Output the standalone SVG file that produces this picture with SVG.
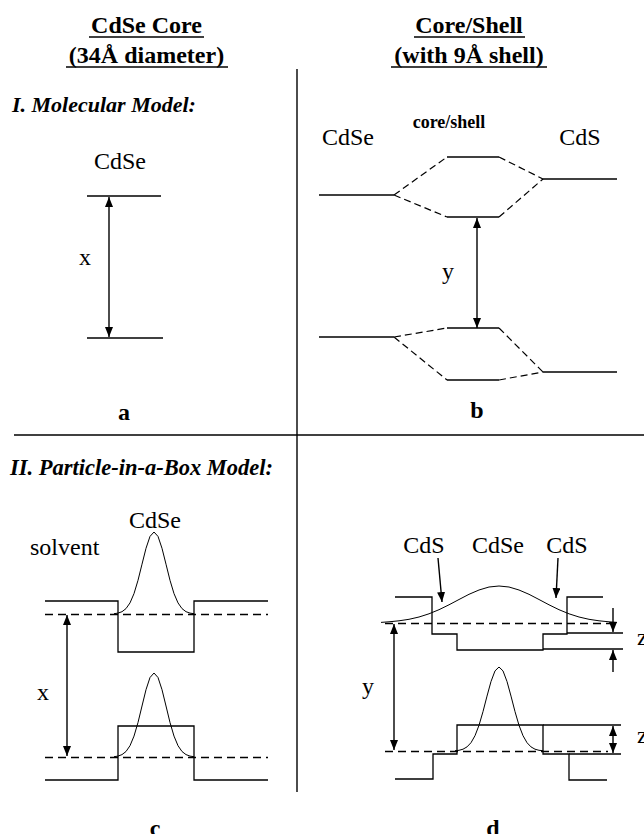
<svg xmlns="http://www.w3.org/2000/svg" width="644" height="834" viewBox="0 0 644 834" font-family="'Liberation Serif', 'DejaVu Serif', serif">
<style>
text{font-family:"Liberation Serif","DejaVu Serif","Times New Roman",serif;fill:#000}
.hd{font-size:24px;font-weight:bold;text-anchor:middle}
.sec{font-weight:bold;font-style:italic}
.lb{font-size:24px;text-anchor:middle}
.lt{font-size:24px;font-weight:bold;text-anchor:middle}
.ln{stroke:#000;stroke-width:1.3;fill:none}
.ul{stroke:#000;stroke-width:1.6}
.ds{stroke:#000;stroke-width:1.3;fill:none;stroke-dasharray:8 5}
.dsb{stroke:#000;stroke-width:1.2;fill:none;stroke-dasharray:7 4}
.gs{stroke:#000;stroke-width:1;fill:none}
.ar{stroke:#000;stroke-width:1.4;fill:none;marker-end:url(#ah)}
.ar2{stroke:#000;stroke-width:1.4;fill:none;marker-end:url(#ah);marker-start:url(#ah)}
.dv{stroke:#000;stroke-width:1.4}
</style>
<defs>
<marker id="ah" viewBox="0 0 10 8" refX="10" refY="4" markerWidth="10" markerHeight="8" markerUnits="userSpaceOnUse" orient="auto-start-reverse">
<path d="M0,0 L10,4 L0,8 z" fill="#000"/>
</marker>
</defs>
<rect width="644" height="834" fill="#fff"/>

<g id="headers">
<text class="hd" x="146.5" y="33">CdSe Core</text>
<line class="ul" x1="89" y1="37" x2="204" y2="37"/>
<text class="hd" x="146.5" y="63">(34Å diameter)</text>
<line class="ul" x1="66" y1="67" x2="228" y2="67"/>
<text class="hd" x="469" y="33">Core/Shell</text>
<line class="ul" x1="414" y1="37" x2="525" y2="37"/>
<text class="hd" x="469" y="63">(with 9Å shell)</text>
<line class="ul" x1="391" y1="67" x2="547" y2="67"/>
<text class="sec" x="12" y="112" style="font-size:22px">I. Molecular Model:</text>
<text class="sec" x="10" y="475" style="font-size:22.5px">II. Particle-in-a-Box Model:</text>
</g>

<g id="dividers">
<line class="dv" x1="297" y1="69" x2="297" y2="792"/>
<line class="dv" x1="14" y1="435" x2="644" y2="435"/>
</g>

<g id="panel-a">
<text class="lb" x="120" y="169">CdSe</text>
<line class="ln" x1="87" y1="196" x2="161" y2="196"/>
<line class="ln" x1="87" y1="338" x2="163" y2="338"/>
<text class="lb" x="85" y="265">x</text>
<text class="lt" x="124" y="420">a</text>
</g>

<g id="panel-b">
<text class="lb" x="348" y="145">CdSe</text>
<text class="lb" x="580" y="145">CdS</text>
<text x="449" y="128" style="font-size:18px;font-weight:bold;text-anchor:middle">core/shell</text>
<line class="ln" x1="319" y1="195" x2="394" y2="195"/>
<line class="ln" x1="447" y1="157" x2="499" y2="157"/>
<line class="ln" x1="447" y1="217" x2="499" y2="217"/>
<line class="ln" x1="543" y1="179" x2="617" y2="179"/>
<path class="dsb" d="M394,195 L447,157 M499,157 L543,179 M394,195 L447,217 M499,217 L543,179"/>
<line class="ln" x1="319" y1="337" x2="394" y2="337"/>
<line class="ln" x1="447" y1="328" x2="499" y2="328"/>
<line class="ln" x1="447" y1="380" x2="499" y2="380"/>
<line class="ln" x1="543" y1="372" x2="617" y2="372"/>
<path class="dsb" d="M394,337 L447,328 M499,328 L543,372 M394,337 L447,380 M499,380 L543,372"/>
<text class="lb" x="448" y="279">y</text>
<text class="lt" x="477" y="418">b</text>
</g>

<g id="panel-c">
<text class="lb" x="155" y="528">CdSe</text>
<text style="font-size:24px" x="30" y="555">solvent</text>
<path class="ln" d="M45,601 H118 V652 H194 V601 H268"/>
<line class="ds" x1="45" y1="614.5" x2="268" y2="614.5"/>
<polyline class="gs" points="114,613.7 118,613.1 122,611.7 126,608.6 130,602.9 134,593.6 138,580.3 142,564.2 146,548.3 150,536.4 154,532 158,536.4 162,548.3 166,564.2 170,580.3 174,593.6 178,602.9 182,608.6 186,611.7 190,613.1 194,613.7"/>
<path class="ln" d="M45,780 H118 V726 H194 V780 H268"/>
<line class="ds" x1="45" y1="757.5" x2="268" y2="757.5"/>
<polyline class="gs" points="114,756.7 118,756.1 122,754.6 126,751.5 130,745.7 134,736.1 138,722.5 142,706 146,689.7 150,677.5 154,673 158,677.5 162,689.7 166,706 170,722.5 174,736.1 178,745.7 182,751.5 186,754.6 190,756.1 194,756.7"/>
<text class="lb" x="43" y="700">x</text>
<text class="lt" x="155" y="836">c</text>
</g>

<g id="panel-d">
<text class="lb" x="424" y="553">CdS</text>
<text class="lb" x="498" y="553">CdSe</text>
<text class="lb" x="567" y="553">CdS</text>
<path class="ln" d="M395,597 H432 V634 H457 V650 H543 V634 H567 V597 H603"/>
<line class="ln" x1="567" y1="633" x2="623" y2="633"/>
<line class="ln" x1="543" y1="649" x2="623" y2="649"/>
<line class="ds" x1="385" y1="623.5" x2="615" y2="623.5"/>
<polyline class="gs" points="381,622.4 389,621.8 399,620.8 409,619.3 419,617 429,613.8 439,609.7 449,604.8 459,599.5 469,594.3 479,590 489,587 499,586 509,587 519,590 529,594.3 539,599.5 549,604.8 559,609.7 569,613.8 579,617 589,619.3 599,620.8 609,621.8 617,622.4"/>
<path class="ln" d="M395,779 H433 V754 H457 V725 H543 V754 H569 V780 H607"/>
<line class="ln" x1="543" y1="725" x2="621" y2="725"/>
<line class="ln" x1="569" y1="754" x2="621" y2="754"/>
<line class="ds" x1="385" y1="751.5" x2="608" y2="751.5"/>
<polyline class="gs" points="455,750.7 459,750.3 463,749.2 467,746.9 471,742.7 475,735.7 479,725.3 483,711.6 487,696.1 491,681.5 495,670.9 499,667 503,670.9 507,681.5 511,696.1 515,711.6 519,725.3 523,735.7 527,742.7 531,746.9 535,749.2 539,750.3 543,750.7"/>
<text class="lb" x="368" y="694">y</text>
<text style="font-size:24px" x="637" y="645">z</text>
<text style="font-size:24px" x="637" y="743">z</text>
<text class="lt" x="493" y="836">d</text>
</g>

<g id="connectors">
<line class="ar2" x1="109" y1="197" x2="109" y2="337"/>
<line class="ar2" x1="477" y1="218" x2="477" y2="328"/>
<line class="ar2" x1="67" y1="615" x2="67" y2="756"/>
<line class="ar2" x1="394" y1="624" x2="394" y2="750"/>
<line class="ar" x1="438" y1="558" x2="442" y2="602"/>
<line class="ar" x1="558" y1="558" x2="556" y2="598"/>
<line class="ar" x1="613" y1="608" x2="613" y2="632"/>
<line class="ar" x1="613" y1="672" x2="613" y2="650"/>
<line class="ar2" x1="613" y1="726" x2="613" y2="753"/>
</g>
</svg>
